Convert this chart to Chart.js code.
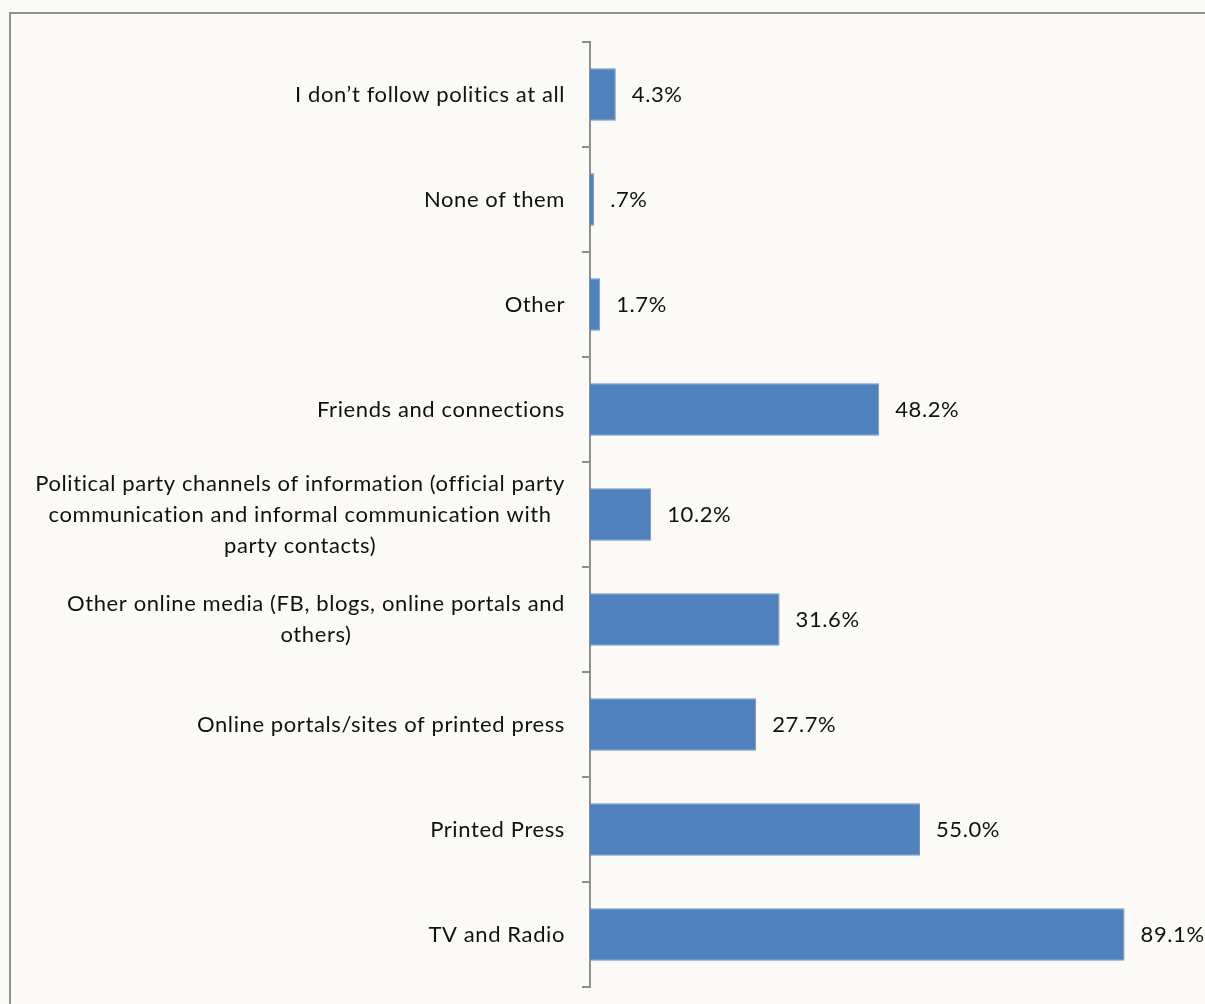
<!DOCTYPE html>
<html>
<head>
<meta charset="utf-8">
<script src="https://cdn.jsdelivr.net/npm/chart.js@4.4.0/dist/chart.umd.min.js"></script>
<style>
    html, body { margin: 0; padding: 0; background: #fbfaf7; }
    #wrap { position: relative; width: 1205px; height: 1004px; }
    #frame {
        position: absolute; left: 9px; top: 12px; right: -5px; bottom: -5px;
        border: 2px solid #8e8e8e;
    }
    canvas { position: absolute; left: 0; top: 0; }
</style>
</head>
<body>
<div id="wrap">
    <div id="frame"></div>
    <canvas id="chart" width="1205" height="1004"></canvas>
</div>
<script>
const categories = [
    "I don\u2019t follow politics at all",
    "None of them",
    "Other",
    "Friends and connections",
    ["Political party channels of information (official party", "communication and informal communication with", "party contacts)"],
    ["Other online media (FB, blogs, online portals and", "others)"],
    "Online portals/sites of printed press",
    "Printed Press",
    "TV and Radio"
];
const shares = [4.3, 0.7, 1.7, 48.2, 10.2, 31.6, 27.7, 55.0, 89.1];

const FONT = 'Lato, "Open Sans", sans-serif';
const FONT_SIZE = 22;
const LINE_H = 31;

function setFont(ctx) {
    ctx.font = FONT_SIZE + 'px ' + FONT;
    // a little spacing: closer to the original width and no fancy "ti" ligature
    ctx.letterSpacing = '0.6px';
    ctx.fillStyle = '#111';
    ctx.textBaseline = 'middle';
}

// category names: block right aligned at the axis, lines centred inside the block (like Excel)
const categoryLabels = {
    id: 'categoryLabels',
    afterDraw(chart) {
        const ctx = chart.ctx;
        const yScale = chart.scales.y;
        ctx.save();
        setFont(ctx);
        ctx.textAlign = 'center';
        const right = yScale.right - 25;
        categories.forEach((lab, i) => {
            const lines = Array.isArray(lab) ? lab : [lab];
            const widest = Math.max(...lines.map(l => ctx.measureText(l).width));
            const cx = right - widest / 2;
            const cy = yScale.getPixelForValue(i);
            const y0 = cy - (lines.length - 1) * LINE_H / 2;
            lines.forEach((l, j) => ctx.fillText(l, cx, y0 + j * LINE_H));
        });
        ctx.restore();
    }
};

// write value at the end of each bar, SPSS style (.7% not 0.7%)
const valueLabels = {
    id: 'valueLabels',
    afterDatasetsDraw(chart) {
        const ctx = chart.ctx;
        const meta = chart.getDatasetMeta(0);
        ctx.save();
        setFont(ctx);
        ctx.textAlign = 'left';
        meta.data.forEach((bar, i) => {
            let txt = shares[i].toFixed(1);
            if (txt.startsWith('0')) txt = txt.slice(1);
            ctx.fillText(txt + '%', bar.x + 16, bar.y);
        });
        ctx.restore();
    }
};

new Chart(document.getElementById('chart'), {
    type: 'bar',
    data: {
        labels: categories,
        datasets: [{
            data: shares,
            backgroundColor: '#4f81bd',
            borderColor: '#6f97c9',
            borderWidth: 1,
            barPercentage: 0.5,
            categoryPercentage: 1.0
        }]
    },
    options: {
        indexAxis: 'y',
        responsive: false,
        animation: false,
        layout: { padding: { left: 0, top: 42, bottom: 17, right: 15 } },
        plugins: {
            legend: { display: false },
            tooltip: { enabled: false }
        },
        scales: {
            x: { display: false, min: 0, max: 100 },
            y: {
                afterFit(scale) { scale.width = 590; },
                border: { display: true, color: '#8e8e8e', width: 2 },
                grid: {
                    offset: true,
                    drawOnChartArea: false,
                    drawTicks: true,
                    tickLength: 8,
                    color: '#8e8e8e',
                    lineWidth: 2
                },
                ticks: { display: false }
            }
        }
    },
    plugins: [valueLabels, categoryLabels]
});
</script>
</body>
</html>
